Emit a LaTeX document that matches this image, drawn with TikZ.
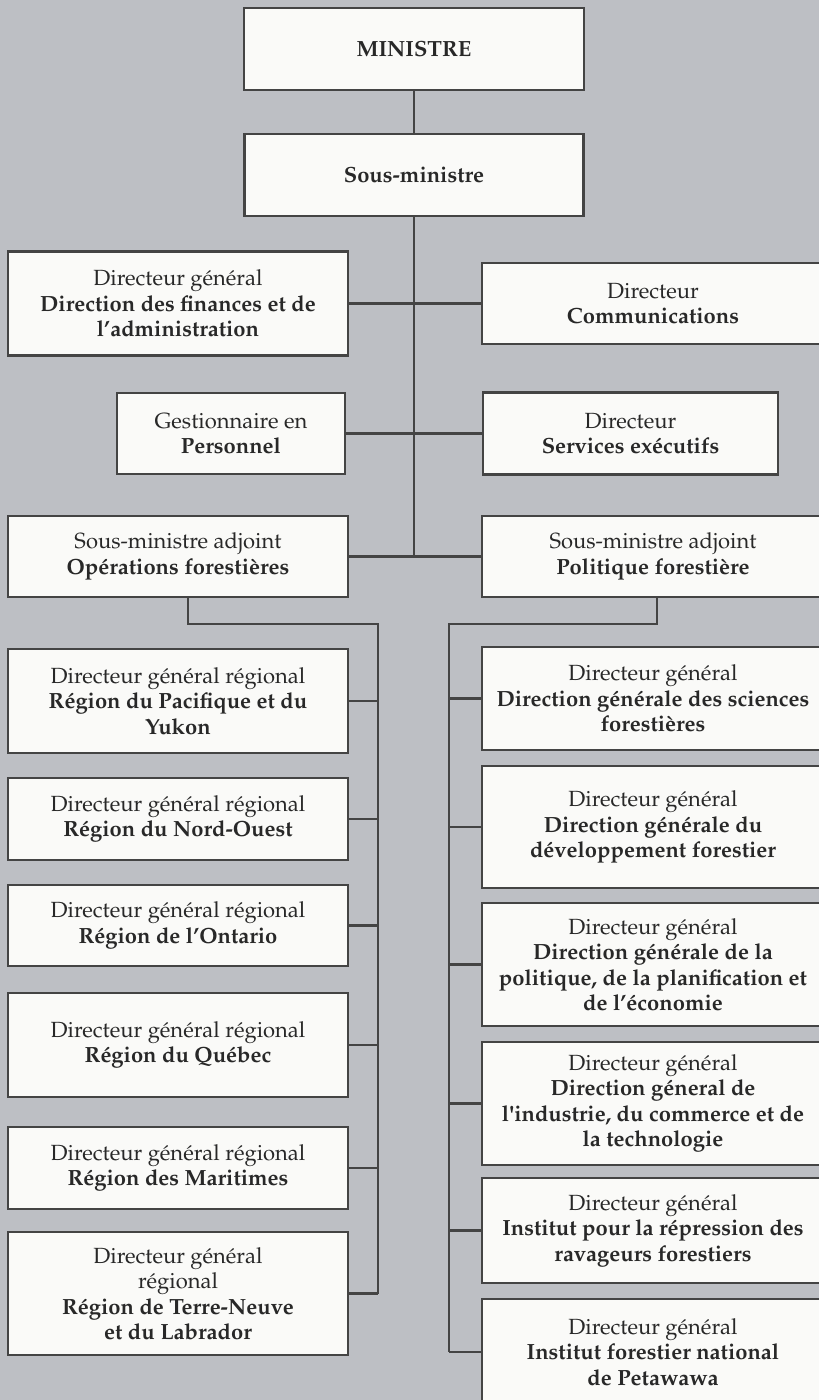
\documentclass[tikz,border=0pt]{standalone}
\usepackage[T1]{fontenc}
\usepackage{mathpazo}
\definecolor{ink}{RGB}{40,40,40}
\definecolor{frame}{RGB}{68,68,68}
\definecolor{paper}{RGB}{250,250,248}
\definecolor{wall}{RGB}{189,191,196}
\tikzset{
  every picture/.style={line width=1.4pt},
  box/.style={draw=frame, fill=paper, line width=1.4pt, inner sep=2pt, align=center, text=ink, font=\fontsize{12.5}{14.5}\selectfont},
  lcol/.style={box, minimum width=68mm},
  rcol/.style={box, minimum width=68.4mm},
  link/.style={draw=frame, line width=1.4pt},
}

\begin{document}
\begin{tikzpicture}[x=1mm, y=-1mm]
  % Organigramme: ministre, sous-ministre, services centraux,
  % puis deux sous-ministres adjoints avec leurs directions.
  \fill[wall] (0,0) rectangle (163.8,280);
  \useasboundingbox (0,0) rectangle (163.8,280);
  \clip (0,0) rectangle (163.8,280);
  \node[box, minimum width=68mm, minimum height=16.4mm] (MIN) at (82.8,9.8) {\textbf{MINISTRE}};
  \node[box, minimum width=67.8mm, minimum height=16.4mm] (SM) at (82.8,35) {\textbf{Sous-ministre}};
  \node[lcol, minimum height=20.8mm] (FIN) at (35.6,60.7) {Directeur général\\\textbf{Direction des finances et de}\\\textbf{l'administration}};
  \node[rcol, minimum height=16.2mm] (COM) at (130.6,60.7) {Directeur\\\textbf{Communications}};
  \node[box, minimum width=45.6mm, minimum height=16.2mm] (PER) at (46.2,86.7) {Gestionnaire en\\\textbf{Personnel}};
  \node[box, minimum width=59mm, minimum height=16.4mm] (SEX) at (126.1,86.7) {Directeur\\\textbf{Services exécutifs}};
  \node[lcol, minimum height=16.2mm] (OPS) at (35.6,111.3) {Sous-ministre adjoint\\\textbf{Opérations forestières}};
  \node[rcol, minimum height=16.2mm] (POL) at (130.6,111.3) {Sous-ministre adjoint\\\textbf{Politique forestière}};
  % regions
  \node[lcol, minimum height=20.8mm] (PAC) at (35.6,140.2) {Directeur général régional\\\textbf{Région du Pacifique et du}\\\textbf{Yukon}};
  \node[lcol, minimum height=16.4mm] (NO) at (35.6,163.8) {Directeur général régional\\\textbf{Région du Nord-Ouest}};
  \node[lcol, minimum height=16.2mm] (ONT) at (35.6,185.1) {Directeur général régional\\\textbf{Région de l'Ontario}};
  \node[lcol, minimum height=20.8mm] (QUE) at (35.6,209) {Directeur général régional\\\textbf{Région du Québec}};
  \node[lcol, minimum height=16.4mm] (MAR) at (35.6,233.6) {Directeur général régional\\\textbf{Région des Maritimes}};
  \node[lcol, minimum height=24.6mm] (TN) at (35.6,258.7) {Directeur général\\régional\\\textbf{Région de Terre-Neuve}\\\textbf{et du Labrador}};
  % directions generales
  \node[rcol, minimum height=20.6mm] (SCI) at (130.6,139.7) {Directeur général\\\textbf{Direction générale des sciences}\\\textbf{forestières}};
  \node[rcol, minimum height=24.4mm] (DEV) at (130.6,165.4) {Directeur général\\\textbf{Direction générale du}\\\textbf{développement forestier}};
  \node[rcol, minimum height=24.6mm] (PLAN) at (130.6,192.9) {Directeur général\\\textbf{Direction générale de la}\\\textbf{politique, de la planification et}\\\textbf{de l'économie}};
  \node[rcol, minimum height=24.6mm] (IND) at (130.6,220.7) {Directeur général\\\textbf{Direction géneral de}\\\textbf{l\textquotesingle industrie, du commerce et de}\\\textbf{la technologie}};
  \node[rcol, minimum height=21mm] (REP) at (130.6,246.1) {Directeur général\\\textbf{Institut pour la répression des}\\\textbf{ravageurs forestiers}};
  \node[rcol, minimum height=21.2mm] (PET) at (130.6,270.4) {Directeur général\\\textbf{Institut forestier national}\\\textbf{de Petawawa}};
  % tronc
  \draw[link] (MIN) -- (SM);
  \draw[link] (SM.south) -- (SM.south |- OPS.east);
  \draw[link] (FIN.east) -- (FIN.east -| COM.west);
  \draw[link] (PER.east) -- (PER.east -| SEX.west);
  \draw[link] (OPS.east) -- (OPS.east -| POL.west);
  % barres des adjoints
  \coordinate (lturn) at (37.6,124.8);
  \coordinate (ltop) at (75.6,124.8);
  \coordinate (rturn) at (131.4,124.8);
  \coordinate (rtop) at (89.8,124.8);
  \draw[link] (OPS.south -| lturn) -- (lturn) -- (ltop) -- (ltop |- TN.east);
  \draw[link] (POL.south -| rturn) -- (rturn) -- (rtop) -- (rtop |- PET.west);
  \draw[link] (PAC.east) -- (PAC.east -| ltop);
  \draw[link] (NO.east) -- (NO.east -| ltop);
  \draw[link] (ONT.east) -- (ONT.east -| ltop);
  \draw[link] (QUE.east) -- (QUE.east -| ltop);
  \draw[link] (MAR.east) -- (MAR.east -| ltop);
  \draw[link] (TN.east) -- (TN.east -| ltop);
  \draw[link] (SCI.west) -- (SCI.west -| rtop);
  \draw[link] (DEV.west) -- (DEV.west -| rtop);
  \draw[link] (PLAN.west) -- (PLAN.west -| rtop);
  \draw[link] (IND.west) -- (IND.west -| rtop);
  \draw[link] (REP.west) -- (REP.west -| rtop);
  \draw[link] (PET.west) -- (PET.west -| rtop);
\end{tikzpicture}
\end{document}
